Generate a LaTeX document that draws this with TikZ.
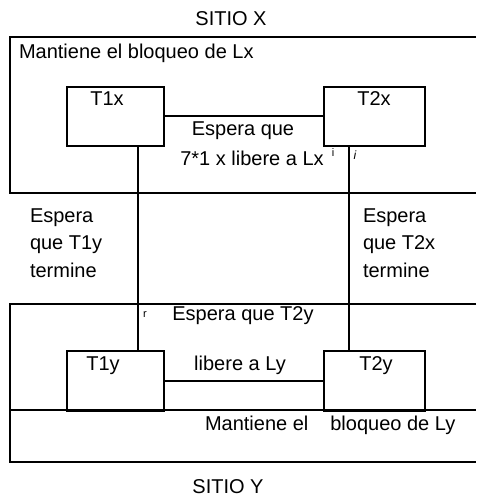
\documentclass[tikz,border=0pt]{standalone}
\usepackage{fontspec}
\setmainfont{Liberation Sans}

\begin{document}
\begin{tikzpicture}[x=1pt,y=-1pt,line width=2pt,
  every node/.style={inner sep=0pt,font=\fontsize{20}{27.5}\selectfont}]
\tikzset{tbox/.style={draw,rectangle,anchor=north west,minimum height=59pt},
  txt/.style={anchor=base},
  tiny/.style={anchor=base,font=\fontsize{11}{13}\selectfont}}
\useasboundingbox (0,0) rectangle (476,497);
% ---------- sites ----------
\draw (476,37) -- (10,37) -- (10,193) -- (476,193);
\draw (476,304) -- (10,304) -- (10,462) -- (476,462);
\draw (10,410) -- (476,410);
\node[txt] (sx) at (231,26) {SITIO X};
\node[txt] (sy) at (228,493) {SITIO Y};
\node[txt,anchor=base west] (lkx) at (18,59) {Mantiene el bloqueo de Lx};
\node[txt,anchor=base west] (lky) at (204,430) {Mantiene el\hspace{22pt}bloqueo de Ly};
% ---------- transactions ----------
\node[tbox,minimum width=97pt] (t1x) at (66,86) {};
\node[tbox,minimum width=101pt] (t2x) at (323,86) {};
\node[tbox,minimum width=97pt,minimum height=60pt] (t1y) at (66,350) {};
\node[tbox,minimum width=101pt,minimum height=60pt] (t2y) at (323,350) {};
\node[txt] (n1x) at (107,106) {T1x};
\node[txt] (n2x) at (374,106) {T2x};
\node[txt] (n1y) at (103,370) {T1y};
\node[txt] (n2y) at (376,370) {T2y};
% ---------- waits ----------
\coordinate (v1) at (138,0);
\coordinate (v2) at (349,0);
\draw (t1x.east) -- (t2x.west);
\draw (t1y.east) -- (t2y.west);
\draw (t1x.south -| v1) -- (t1y.north -| v1);
\draw (t2x.south -| v2) -- (t2y.north -| v2);
\node[txt] (wx1) at (243,136) {Espera que};
\node[txt] (wx2) at (252,165) {7*1 x libere a Lx};
\node[txt] (wy1) at (243,320) {Espera que T2y};
\node[txt] (wy2) at (240,370) {libere a Ly};
% last line sets the base
\node[txt,anchor=base west,align=left] (wl) at (29,277) {Espera\\que T1y\\termine};
\node[txt,anchor=base west,align=left] (wr) at (362,277) {Espera\\que T2x\\termine};
\node[tiny] (ma) at (333,157) {i};
\node[tiny,font=\fontsize{12}{14}\selectfont\itshape] (mb) at (355,159) {i};
\node[tiny] (mc) at (145,317) {r};
\end{tikzpicture}
\end{document}
